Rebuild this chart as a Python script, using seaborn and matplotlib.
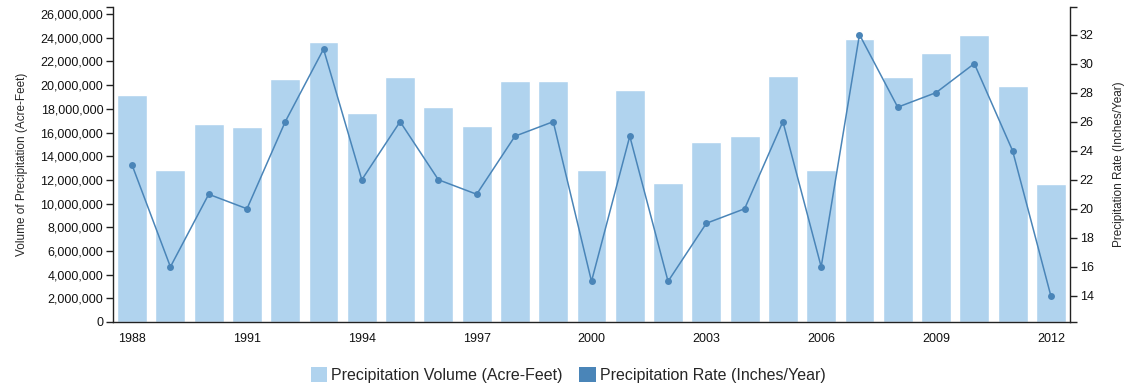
import matplotlib

matplotlib.use("Agg")
import matplotlib.pyplot as plt
import matplotlib.ticker as mticker
from matplotlib.patches import Patch
import numpy as np
import pandas as pd
import seaborn as sns

years = list(range(1988, 2013))
volume = [19.13, 12.86, 16.68, 16.43, 20.51, 23.66, 17.64, 20.65, 18.18, 16.55,
          20.37, 20.37, 12.83, 19.55, 11.76, 15.16, 15.73, 20.77, 12.83, 23.92,
          20.65, 22.71, 24.23, 19.97, 11.65]
volume = [v * 1_000_000 for v in volume]
rate = [23, 16, 21, 20, 26, 31, 22, 26, 22, 21, 25, 26, 15, 25, 15, 19, 20, 26,
        16, 32, 27, 28, 30, 24, 14]

BAR_COLOR = "#b0d3ee"
LINE_COLOR = "#4a85b8"
AXIS_COLOR = "#222222"

sns.set_style("white")
plt.rcParams["font.family"] = ["Liberation Sans", "DejaVu Sans"]

df = pd.DataFrame({"year": [str(y) for y in years], "volume": volume, "rate": rate})
df["idx"] = np.arange(len(df))

fig = plt.figure(figsize=(11.33, 3.89), dpi=100)
ax = fig.add_axes([113 / 1133, 1 - 322 / 389, (1070 - 113) / 1133, (322 - 7) / 389])

sns.barplot(data=df, x="year", y="volume", color=BAR_COLOR, saturation=1,
            width=0.78, ax=ax)

ax2 = ax.twinx()
sns.lineplot(data=df, x="idx", y="rate", color=LINE_COLOR, marker="o",
             markersize=5, markeredgewidth=0, linewidth=1.1, ax=ax2)

ax.set_xlim(-0.5, len(years) - 0.5)
ax.set_ylim(0, 26_600_000)
ax2.set_ylim(12.2, 33.9)

ax.set_xticks(range(len(years)))
ax.set_xticklabels([str(y) if (y - 1988) % 3 == 0 else "" for y in years])
ax.set_yticks(range(0, 26_000_001, 2_000_000))
ax.yaxis.set_major_formatter(mticker.FuncFormatter(lambda v, p: f"{int(v):,}"))
ax2.set_yticks(range(14, 33, 2))

# outer ticks at the domain ends, like d3 axes
ax.yaxis.set_minor_locator(mticker.FixedLocator([26_600_000]))
ax2.yaxis.set_minor_locator(mticker.FixedLocator([12.2, 33.9]))
ax.xaxis.set_minor_locator(mticker.FixedLocator([-0.5, len(years) - 0.5]))

for a in (ax, ax2):
    a.tick_params(axis="both", which="both", direction="out", length=5, width=1,
                  color=AXIS_COLOR, labelsize=9, labelcolor="#111111", pad=2)
    a.spines["top"].set_visible(False)
    for s in ("left", "right", "bottom"):
        a.spines[s].set_color(AXIS_COLOR)
        a.spines[s].set_linewidth(1)
    a.grid(False)
ax.tick_params(axis="x", pad=3)
ax.spines["right"].set_visible(False)
ax2.spines["left"].set_visible(False)
ax2.spines["bottom"].set_visible(False)

ax.set_xlabel("")
ax2.set_xlabel("")
ax.set_ylabel("Volume of Precipitation (Acre-Feet)", fontsize=8.5, labelpad=9)
ax2.set_ylabel("Precipitation Rate (Inches/Year)", fontsize=8.5, labelpad=14)

handles = [Patch(facecolor=BAR_COLOR, edgecolor="none"),
           Patch(facecolor=LINE_COLOR, edgecolor="none")]
fig.legend(handles, ["Precipitation Volume (Acre-Feet)", "Precipitation Rate (Inches/Year)"],
           loc="center", bbox_to_anchor=(568 / 1133, 1 - 375 / 389), ncol=2, frameon=False,
           fontsize=11.5, handlelength=1.05, handleheight=1.05, handletextpad=0.25,
           columnspacing=1.0)

fig.savefig("out.png", dpi=100)
